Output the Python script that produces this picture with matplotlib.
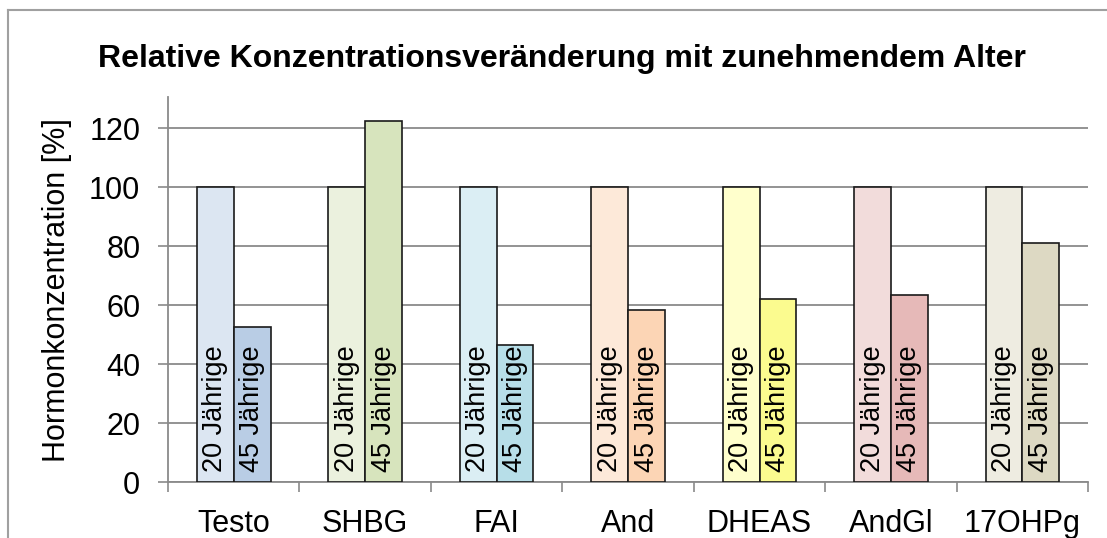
import numpy as np
import matplotlib
matplotlib.use("Agg")
import matplotlib.pyplot as plt
from matplotlib.lines import Line2D

# --- data ---
categories = ["Testo", "SHBG", "FAI", "And", "DHEAS", "AndGl", "17OHPg"]
young = [100, 100, 100, 100, 100, 100, 100]
old = [52.5, 122.5, 46.5, 58.5, 62, 63.5, 81]
young_label = "20 Jährige"
old_label = "45 Jährige"
young_colors = ["#dce6f2", "#ebf1de", "#dbeef4", "#fde9d9", "#ffffcc", "#f2dcdb", "#eeece1"]
old_colors = ["#b9cde5", "#d7e4bd", "#b7dee8", "#fcd5b5", "#fbfb8f", "#e6b9b8", "#ddd9c3"]
yticks = [0, 20, 40, 60, 80, 100, 120]

plt.rcParams["font.family"] = ["Liberation Sans", "DejaVu Sans"]

fig = plt.figure(figsize=(11.07, 5.38), dpi=100)
ax = fig.add_axes([0.1518, 0.1035, 0.8312, 0.7162])

x = np.arange(len(categories)) + 0.5
w = 0.28
ax.bar(x - w / 2, young, width=w, color=young_colors, edgecolor="#1a1a1a",
       linewidth=1.2, zorder=3)
ax.bar(x + w / 2, old, width=w, color=old_colors, edgecolor="#1a1a1a",
       linewidth=1.2, zorder=3)

for xi in x:
    ax.text(xi - w / 2, 3.5, young_label, rotation=90, ha="center", va="bottom",
            fontsize=19.5, zorder=4)
    ax.text(xi + w / 2, 3.5, old_label, rotation=90, ha="center", va="bottom",
            fontsize=19.5, zorder=4)

ax.set_xlim(0, len(categories))
ax.set_ylim(0, 130.5)
ax.set_yticks(yticks)
ax.yaxis.grid(True, color="#8a8a8a", linewidth=1.3, zorder=0)
ax.set_axisbelow(True)

ax.set_xticks(x)
ax.set_xticklabels(categories, fontsize=22)
ax.set_xticks(np.arange(len(categories) + 1), minor=True)
ax.tick_params(axis="x", which="major", length=0, pad=19)
ax.tick_params(axis="x", which="minor", length=7, width=1.2, color="#8a8a8a",
               direction="out")
ax.tick_params(axis="y", length=7, width=1.2, color="#8a8a8a", pad=13, labelsize=22)

for s in ["top", "right"]:
    ax.spines[s].set_visible(False)
for s in ["left", "bottom"]:
    ax.spines[s].set_color("#8a8a8a")
    ax.spines[s].set_linewidth(1.3)

ax.set_ylabel("Hormonkonzentration [%]", fontsize=22, labelpad=12)

fig.text(0.508, 0.891, "Relative Konzentrationsveränderung mit zunehmendem Alter",
         ha="center", va="center", fontsize=23, fontweight="bold")

# outer frame (top and left edges visible)
fig.add_artist(Line2D([8 / 1107, 1], [1 - 10 / 538, 1 - 10 / 538],
                      transform=fig.transFigure, color="#a0a0a0", linewidth=1.5))
fig.add_artist(Line2D([8 / 1107, 8 / 1107], [0, 1 - 10 / 538],
                      transform=fig.transFigure, color="#a0a0a0", linewidth=1.5))

fig.savefig("out.png", dpi=100)
